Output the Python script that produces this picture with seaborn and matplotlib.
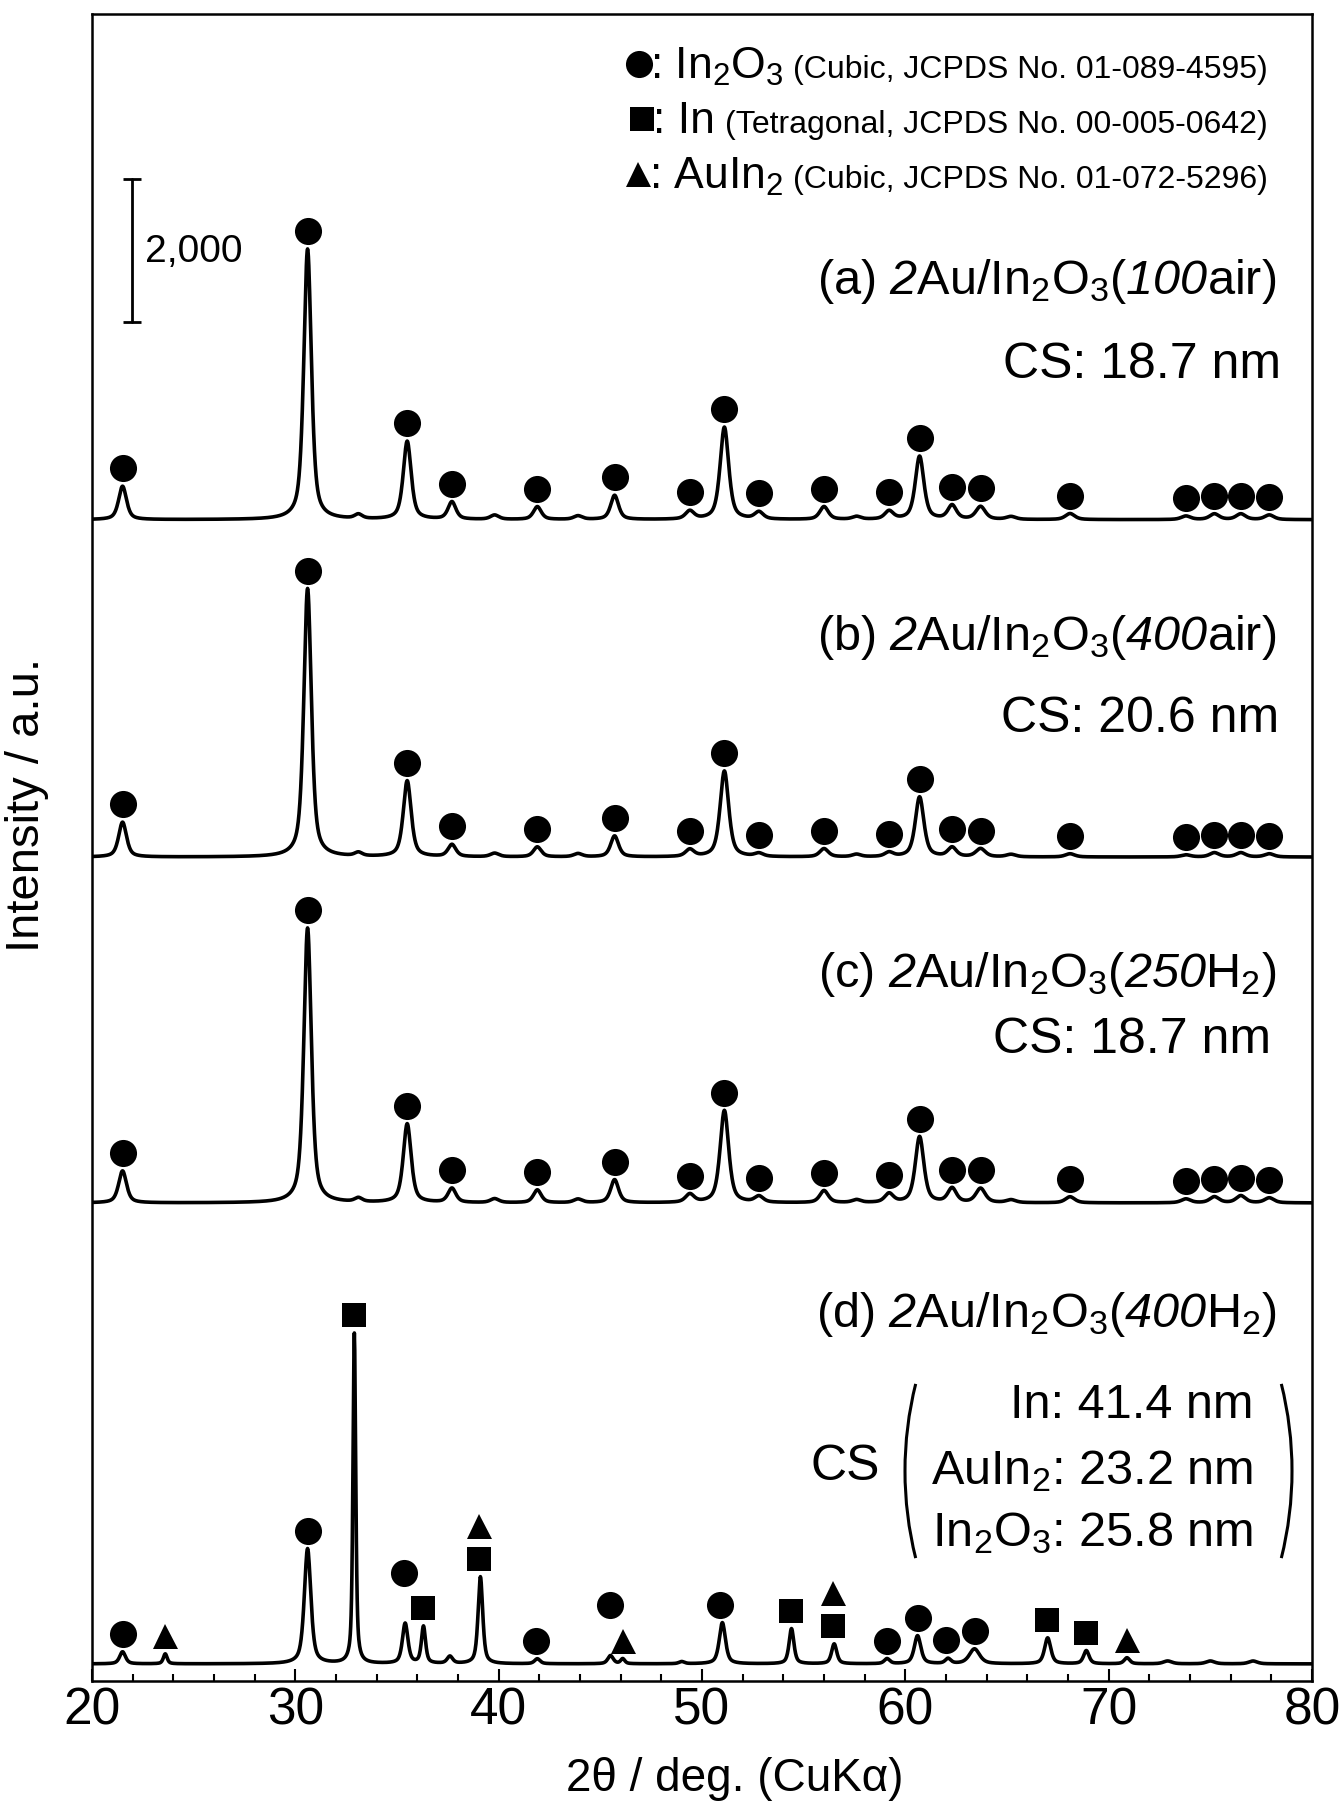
import numpy as np
import pandas as pd
import seaborn as sns
import matplotlib.pyplot as plt
from matplotlib.ticker import MultipleLocator
from matplotlib.transforms import blended_transform_factory
from matplotlib.patches import Arc

# ---- peak data (2theta in deg, intensity in counts) ----
two_theta_abc = [21.5, 30.6, 33.1, 35.5, 37.7, 39.8, 41.9, 43.9, 45.7, 49.4, 51.1, 52.8,
                 56.0, 57.6, 59.2, 60.7, 62.3, 63.7, 65.2, 68.1, 73.8, 75.2, 76.5, 77.9]
fwhm_abc = [0.46, 0.44, 0.44, 0.46, 0.46, 0.5, 0.46, 0.5, 0.46, 0.5, 0.5, 0.5,
            0.5, 0.5, 0.5, 0.5, 0.5, 0.55, 0.55, 0.55, 0.55, 0.55, 0.55, 0.55]
heights_a = [470, 3810, 60, 1100, 245, 60, 180, 50, 340, 115, 1300, 100,
             180, 40, 115, 890, 195, 180, 40, 85, 50, 80, 80, 65]
heights_b = [490, 3780, 50, 1070, 170, 50, 140, 45, 295, 100, 1210, 45,
             115, 35, 60, 845, 130, 115, 35, 45, 30, 60, 60, 45]
heights_c = [450, 3870, 55, 1110, 200, 55, 180, 50, 325, 115, 1300, 85,
             170, 40, 125, 930, 200, 200, 40, 85, 55, 85, 100, 70]

two_theta_d = [21.5, 23.6, 30.6, 32.9, 35.4, 36.3, 37.6, 39.1, 41.9, 45.5, 46.1, 49.0, 51.0,
               54.4, 56.5, 59.1, 60.6, 62.1, 63.4, 67.0, 68.9, 70.9, 72.9, 75.0, 77.1]
fwhm_d = [0.34, 0.22, 0.38, 0.16, 0.32, 0.24, 0.32, 0.27, 0.32, 0.32, 0.24, 0.32, 0.36,
          0.28, 0.3, 0.32, 0.38, 0.32, 0.6, 0.36, 0.32, 0.32, 0.5, 0.5, 0.5]
heights_d = [170, 140, 1620, 4650, 565, 520, 100, 1225, 70, 115, 70, 30, 580,
             495, 280, 70, 395, 70, 210, 365, 185, 85, 40, 40, 40]

# phase marks: (2theta, phase, stack tier)
marks_abc = [(p, 'In2O3', 0) for p in [21.5, 30.6, 35.5, 37.7, 41.9, 45.7, 49.4, 51.1, 52.8,
                                        56.0, 59.2, 60.7, 62.3, 63.7, 68.1, 73.8, 75.2, 76.5, 77.9]]
marks_d = [(21.5, 'In2O3', 0), (23.6, 'AuIn2', 0), (30.6, 'In2O3', 0), (32.9, 'In', 0),
           (35.35, 'In2O3', 1), (36.3, 'In', 0), (39.05, 'In', 0), (39.05, 'AuIn2', 1),
           (41.85, 'In2O3', 0), (45.45, 'In2O3', 1), (46.1, 'AuIn2', 0), (50.9, 'In2O3', 0),
           (54.4, 'In', 0), (56.45, 'In', 0), (56.45, 'AuIn2', 1), (59.1, 'In2O3', 0),
           (60.6, 'In2O3', 0), (62.0, 'In2O3', 0), (63.45, 'In2O3', 0), (66.95, 'In', 0),
           (68.9, 'In', 0), (70.9, 'AuIn2', 0)]

samples = ['a', 'b', 'c', 'd']
offsets = {'a': 16110, 'b': 11360, 'c': 6490, 'd': 0}

# \mathsf is mapped to the italic face (mathtext keeps \mathit digits upright)
labels = {
    'a': r"(a) $\mathsf{2}$Au/In$_2$O$_3$($\mathsf{100}$air)",
    'b': r"(b) $\mathsf{2}$Au/In$_2$O$_3$($\mathsf{400}$air)",
    'c': r"(c) $\mathsf{2}$Au/In$_2$O$_3$($\mathsf{250}$H$_2$)",
    'd': r"(d) $\mathsf{2}$Au/In$_2$O$_3$($\mathsf{400}$H$_2$)",
}
cs_abc = {'a': "CS: 18.7 nm", 'b': "CS: 20.6 nm", 'c': "CS: 18.7 nm"}
cs_d = ["In: 41.4 nm", r"AuIn$_2$: 23.2 nm", r"In$_2$O$_3$: 25.8 nm"]

legend_main = [r": In$_2$O$_3$", ": In", r": AuIn$_2$"]
legend_detail = ["(Cubic, JCPDS No. 01-089-4595)",
                 "(Tetragonal, JCPDS No. 00-005-0642)",
                 "(Cubic, JCPDS No. 01-072-5296)"]
legend_phase = ['In2O3', 'In', 'AuIn2']

phase_marker = {'In2O3': ('o', 19.5), 'In': ('s', 17), 'AuIn2': ('^', 18)}


def pseudo_voigt(x, center, height, fwhm, eta=0.6):
    d = (x - center) / fwhm
    return height * (eta / (1 + 4 * d ** 2) + (1 - eta) * np.exp(-4 * np.log(2) * d ** 2))


def pattern(x, centers, heights, widths):
    y = np.zeros_like(x)
    for c, h, w in zip(centers, heights, widths):
        y += pseudo_voigt(x, c, h, w)
    return y


x_grid = np.round(np.arange(20.0, 80.0001, 0.02), 3)
peak_sets = {
    'a': (two_theta_abc, heights_a, fwhm_abc),
    'b': (two_theta_abc, heights_b, fwhm_abc),
    'c': (two_theta_abc, heights_c, fwhm_abc),
    'd': (two_theta_d, heights_d, fwhm_d),
}
frames = []
for s in samples:
    c, h, w = peak_sets[s]
    frames.append(pd.DataFrame({'two_theta': x_grid,
                                'intensity': pattern(x_grid, c, h, w) + offsets[s],
                                'sample': s}))
df = pd.concat(frames, ignore_index=True)

# ---- plotting ----
sns.set_theme(style='white')
plt.rcParams['font.family'] = ['Liberation Sans', 'DejaVu Sans']
plt.rcParams['mathtext.fontset'] = 'custom'
plt.rcParams['mathtext.rm'] = 'Liberation Sans'
plt.rcParams['mathtext.it'] = 'Liberation Sans:italic'
plt.rcParams['mathtext.sf'] = 'Liberation Sans:italic'
plt.rcParams['mathtext.default'] = 'regular'
plt.rcParams['text.color'] = 'black'
plt.rcParams['axes.labelcolor'] = 'black'

fig, ax = plt.subplots(figsize=(13.4, 18.06), dpi=100)
fig.subplots_adjust(left=0.0687, right=0.9791, top=0.9917, bottom=0.0687)

sns.lineplot(data=df, x='two_theta', y='intensity', hue='sample', units='sample',
             estimator=None, palette=['black'] * 4, legend=False, linewidth=2.6, ax=ax)

# phase markers above peaks
gap, step = 250, 460
for s in samples:
    sub = df[df['sample'] == s]
    marks = marks_d if s == 'd' else marks_abc
    for pos, phase, tier in marks:
        win = sub[(sub['two_theta'] > pos - 0.25) & (sub['two_theta'] < pos + 0.25)]
        y_mark = win['intensity'].max() + gap + tier * step
        m, ms = phase_marker[phase]
        ax.plot(pos, y_mark, marker=m, markersize=ms, color='black', markeredgewidth=0)

ax.set_xlim(20, 80)
ax.set_ylim(-240, 23230)
ax.set_xticks(range(20, 81, 10))
ax.xaxis.set_minor_locator(MultipleLocator(2))
ax.set_yticks([])
ax.tick_params(axis='x', which='both', direction='in', bottom=True, top=False,
               width=1.5, colors='black', labelsize=37, pad=3)
ax.tick_params(axis='x', which='major', length=9)
ax.tick_params(axis='x', which='minor', length=5)
for sp in ax.spines.values():
    sp.set_color('black')
    sp.set_linewidth(1.8)

ax.set_xlabel("2θ / deg. (CuKα)", fontsize=33)
ax.set_ylabel("Intensity / a.u.", fontsize=34)
ax.xaxis.set_label_coords(0.527, -0.045)
ax.yaxis.set_label_coords(-0.035, 0.526)

# sample labels and crystallite sizes
label_pos = {'a': 0.8326, 'b': 0.619, 'c': 0.417, 'd': 0.213}
cs_pos = {'a': (0.975, 0.782), 'b': (0.973, 0.570), 'c': (0.966, 0.377)}
for s in samples:
    ax.text(0.971, label_pos[s], labels[s], transform=ax.transAxes, ha='right',
            va='baseline', fontsize=35)
for s, (xx, yy) in cs_pos.items():
    ax.text(xx, yy, cs_abc[s], transform=ax.transAxes, ha='right', va='baseline', fontsize=36)

for txt, yy in zip(cs_d, [0.1584, 0.1188, 0.0816]):
    ax.text(0.952, yy, txt, transform=ax.transAxes, ha='right', va='baseline', fontsize=35)
ax.text(0.617, 0.129, "CS", transform=ax.transAxes, ha='center', va='center', fontsize=36)

# parentheses around the CS block (figure pixels -> inches)
R = 3.6
fig.add_artist(Arc((9.05 + R, 3.34), 2 * R, 2 * R, theta1=166, theta2=194,
                   transform=fig.dpi_scale_trans, color='black', lw=2.2))
fig.add_artist(Arc((12.92 - R, 3.34), 2 * R, 2 * R, theta1=-14, theta2=14,
                   transform=fig.dpi_scale_trans, color='black', lw=2.2))

# intensity scale bar
trans = blended_transform_factory(ax.transAxes, ax.transData)
ax.plot([0.0328, 0.0328], [18900, 20900], transform=trans, color='black', lw=2,
        marker='_', markersize=13, markeredgewidth=2)
ax.text(0.0434, 19900, "2,000", transform=trans, ha='left', va='center', fontsize=28)

# phase legend (top right)
fig.canvas.draw()
renderer = fig.canvas.get_renderer()
inv = ax.transAxes.inverted()
for main, detail, phase, yy in zip(legend_main, legend_detail, legend_phase,
                                   [0.962, 0.929, 0.896]):
    det = ax.text(0.964, yy, detail, transform=ax.transAxes, ha='right', va='baseline',
                  fontsize=23)
    bb = det.get_window_extent(renderer)
    x0 = inv.transform((bb.x0 - 10, bb.y0))[0]
    mt = ax.text(x0, yy, main, transform=ax.transAxes, ha='right', va='baseline', fontsize=32)
    bb2 = mt.get_window_extent(renderer)
    xm = inv.transform((bb2.x0 - 11, bb2.y0))[0]
    m, ms = phase_marker[phase]
    ax.plot(xm, yy + 13 / 1667, marker=m, markersize=ms, color='black',
            markeredgewidth=0, transform=ax.transAxes, clip_on=False)

fig.savefig('out.png', dpi=100)
